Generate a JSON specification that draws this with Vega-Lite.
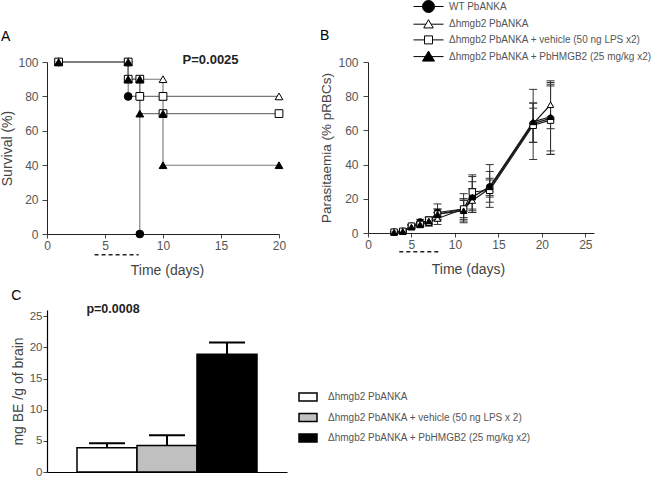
{
  "$schema": "https://vega.github.io/schema/vega-lite/v6.json",
  "padding": {"left": 0, "top": 1, "right": 0, "bottom": 0},
  "background": "white",
  "config": {
    "font": "Liberation Sans",
    "view": {"stroke": null},
    "axis": {"grid": false, "labelColor": "#555", "titleColor": "#444", "titleFontWeight": "normal", "domainColor": "#222", "tickColor": "#444", "labelFont": "Liberation Sans", "titleFont": "Liberation Sans"},
    "title": {"font": "Liberation Sans", "fontWeight": "normal", "fontSize": 14, "color": "#000", "anchor": "start", "frame": "bounds"}
  },
  "datasets": {
    "survival": [
      {"series": "WT PbANKA", "day": 1, "survival": 100, "ord": 0},
      {"series": "WT PbANKA", "day": 7, "survival": 100, "ord": 1},
      {"series": "WT PbANKA", "day": 7, "survival": 80, "ord": 2},
      {"series": "WT PbANKA", "day": 8, "survival": 80, "ord": 3},
      {"series": "WT PbANKA", "day": 8, "survival": 0, "ord": 4},
      {"series": "Δhmgb2 PbANKA", "day": 1, "survival": 100, "ord": 0},
      {"series": "Δhmgb2 PbANKA", "day": 7, "survival": 100, "ord": 1},
      {"series": "Δhmgb2 PbANKA", "day": 7, "survival": 90, "ord": 2},
      {"series": "Δhmgb2 PbANKA", "day": 10, "survival": 90, "ord": 3},
      {"series": "Δhmgb2 PbANKA", "day": 10, "survival": 80, "ord": 4},
      {"series": "Δhmgb2 PbANKA", "day": 20, "survival": 80, "ord": 5},
      {"series": "Δhmgb2 PbANKA + vehicle (50 ng LPS x2)", "day": 1, "survival": 100, "ord": 0},
      {"series": "Δhmgb2 PbANKA + vehicle (50 ng LPS x2)", "day": 7, "survival": 100, "ord": 1},
      {"series": "Δhmgb2 PbANKA + vehicle (50 ng LPS x2)", "day": 7, "survival": 90, "ord": 2},
      {"series": "Δhmgb2 PbANKA + vehicle (50 ng LPS x2)", "day": 8, "survival": 90, "ord": 3},
      {"series": "Δhmgb2 PbANKA + vehicle (50 ng LPS x2)", "day": 8, "survival": 80, "ord": 4},
      {"series": "Δhmgb2 PbANKA + vehicle (50 ng LPS x2)", "day": 10, "survival": 80, "ord": 5},
      {"series": "Δhmgb2 PbANKA + vehicle (50 ng LPS x2)", "day": 10, "survival": 70, "ord": 6},
      {"series": "Δhmgb2 PbANKA + vehicle (50 ng LPS x2)", "day": 20, "survival": 70, "ord": 7},
      {"series": "Δhmgb2 PbANKA + PbHMGB2 (25 mg/kg x2)", "day": 1, "survival": 100, "ord": 0},
      {"series": "Δhmgb2 PbANKA + PbHMGB2 (25 mg/kg x2)", "day": 7, "survival": 100, "ord": 1},
      {"series": "Δhmgb2 PbANKA + PbHMGB2 (25 mg/kg x2)", "day": 7, "survival": 90, "ord": 2},
      {"series": "Δhmgb2 PbANKA + PbHMGB2 (25 mg/kg x2)", "day": 8, "survival": 90, "ord": 3},
      {"series": "Δhmgb2 PbANKA + PbHMGB2 (25 mg/kg x2)", "day": 8, "survival": 70, "ord": 4},
      {"series": "Δhmgb2 PbANKA + PbHMGB2 (25 mg/kg x2)", "day": 10, "survival": 70, "ord": 5},
      {"series": "Δhmgb2 PbANKA + PbHMGB2 (25 mg/kg x2)", "day": 10, "survival": 40, "ord": 6},
      {"series": "Δhmgb2 PbANKA + PbHMGB2 (25 mg/kg x2)", "day": 20, "survival": 40, "ord": 7}
    ],
    "parasitaemia": [
      {"series": "WT PbANKA", "day": 3, "mean": 0.5, "lo": 0.2, "hi": 0.8},
      {"series": "WT PbANKA", "day": 4, "mean": 1, "lo": 0.5, "hi": 1.5},
      {"series": "WT PbANKA", "day": 5, "mean": 4, "lo": 3, "hi": 5},
      {"series": "WT PbANKA", "day": 6, "mean": 6.5, "lo": 5, "hi": 8},
      {"series": "WT PbANKA", "day": 7, "mean": 7, "lo": 5, "hi": 9},
      {"series": "WT PbANKA", "day": 8, "mean": 12, "lo": 7, "hi": 17},
      {"series": "WT PbANKA", "day": 11, "mean": 14, "lo": 6, "hi": 20},
      {"series": "WT PbANKA", "day": 12, "mean": 21, "lo": 13, "hi": 34},
      {"series": "WT PbANKA", "day": 14, "mean": 27, "lo": 15, "hi": 40},
      {"series": "WT PbANKA", "day": 19, "mean": 64, "lo": 43, "hi": 84},
      {"series": "WT PbANKA", "day": 21, "mean": 67, "lo": 46, "hi": 88},
      {"series": "Δhmgb2 PbANKA", "day": 3, "mean": 0.5, "lo": 0.2, "hi": 0.8},
      {"series": "Δhmgb2 PbANKA", "day": 4, "mean": 1, "lo": 0.5, "hi": 1.5},
      {"series": "Δhmgb2 PbANKA", "day": 5, "mean": 3.5, "lo": 2.5, "hi": 4.5},
      {"series": "Δhmgb2 PbANKA", "day": 6, "mean": 5, "lo": 4, "hi": 6},
      {"series": "Δhmgb2 PbANKA", "day": 7, "mean": 6, "lo": 4, "hi": 8},
      {"series": "Δhmgb2 PbANKA", "day": 8, "mean": 8.5, "lo": 5, "hi": 12},
      {"series": "Δhmgb2 PbANKA", "day": 11, "mean": 14, "lo": 8, "hi": 20},
      {"series": "Δhmgb2 PbANKA", "day": 12, "mean": 19, "lo": 12, "hi": 26},
      {"series": "Δhmgb2 PbANKA", "day": 14, "mean": 26, "lo": 21, "hi": 31},
      {"series": "Δhmgb2 PbANKA", "day": 19, "mean": 64, "lo": 53, "hi": 76},
      {"series": "Δhmgb2 PbANKA", "day": 21, "mean": 75, "lo": 61, "hi": 89},
      {"series": "Δhmgb2 PbANKA + vehicle (50 ng LPS x2)", "day": 3, "mean": 0.5, "lo": 0.2, "hi": 0.8},
      {"series": "Δhmgb2 PbANKA + vehicle (50 ng LPS x2)", "day": 4, "mean": 1, "lo": 0.5, "hi": 1.5},
      {"series": "Δhmgb2 PbANKA + vehicle (50 ng LPS x2)", "day": 5, "mean": 4, "lo": 3, "hi": 5},
      {"series": "Δhmgb2 PbANKA + vehicle (50 ng LPS x2)", "day": 6, "mean": 5, "lo": 4, "hi": 6.5},
      {"series": "Δhmgb2 PbANKA + vehicle (50 ng LPS x2)", "day": 7, "mean": 7.5, "lo": 5.5, "hi": 9.5},
      {"series": "Δhmgb2 PbANKA + vehicle (50 ng LPS x2)", "day": 8, "mean": 11, "lo": 8, "hi": 14},
      {"series": "Δhmgb2 PbANKA + vehicle (50 ng LPS x2)", "day": 11, "mean": 14, "lo": 9, "hi": 19},
      {"series": "Δhmgb2 PbANKA + vehicle (50 ng LPS x2)", "day": 12, "mean": 24, "lo": 14, "hi": 33},
      {"series": "Δhmgb2 PbANKA + vehicle (50 ng LPS x2)", "day": 14, "mean": 25, "lo": 18, "hi": 32},
      {"series": "Δhmgb2 PbANKA + vehicle (50 ng LPS x2)", "day": 19, "mean": 63, "lo": 53, "hi": 73},
      {"series": "Δhmgb2 PbANKA + vehicle (50 ng LPS x2)", "day": 21, "mean": 66, "lo": 46, "hi": 86},
      {"series": "Δhmgb2 PbANKA + PbHMGB2 (25 mg/kg x2)", "day": 3, "mean": 0.5, "lo": 0.2, "hi": 0.8},
      {"series": "Δhmgb2 PbANKA + PbHMGB2 (25 mg/kg x2)", "day": 4, "mean": 1, "lo": 0.5, "hi": 1.5},
      {"series": "Δhmgb2 PbANKA + PbHMGB2 (25 mg/kg x2)", "day": 5, "mean": 3.5, "lo": 2.5, "hi": 4.5},
      {"series": "Δhmgb2 PbANKA + PbHMGB2 (25 mg/kg x2)", "day": 6, "mean": 5, "lo": 4, "hi": 6},
      {"series": "Δhmgb2 PbANKA + PbHMGB2 (25 mg/kg x2)", "day": 7, "mean": 7, "lo": 5, "hi": 9},
      {"series": "Δhmgb2 PbANKA + PbHMGB2 (25 mg/kg x2)", "day": 8, "mean": 11, "lo": 8, "hi": 14},
      {"series": "Δhmgb2 PbANKA + PbHMGB2 (25 mg/kg x2)", "day": 11, "mean": 13, "lo": 7, "hi": 23},
      {"series": "Δhmgb2 PbANKA + PbHMGB2 (25 mg/kg x2)", "day": 12, "mean": 21, "lo": 12, "hi": 30},
      {"series": "Δhmgb2 PbANKA + PbHMGB2 (25 mg/kg x2)", "day": 14, "mean": 27, "lo": 22, "hi": 36},
      {"series": "Δhmgb2 PbANKA + PbHMGB2 (25 mg/kg x2)", "day": 19, "mean": 65, "lo": 53, "hi": 76},
      {"series": "Δhmgb2 PbANKA + PbHMGB2 (25 mg/kg x2)", "day": 21, "mean": 68, "lo": 48, "hi": 87}
    ],
    "brain": [
      {"group": "Δhmgb2 PbANKA", "value": 3.9, "upper": 4.6},
      {"group": "Δhmgb2 PbANKA + vehicle (50 ng LPS x 2)", "value": 4.25, "upper": 5.9},
      {"group": "Δhmgb2 PbANKA + PbHMGB2 (25 mg/kg x2)", "value": 18.9, "upper": 20.8}
    ]
  },
  "resolve": {"scale": {"fill": "independent", "shape": "independent", "stroke": "independent"}, "legend": {"fill": "independent", "shape": "independent", "stroke": "independent"}},
  "spacing": 11,
  "vconcat": [
    {
      "spacing": 33,
      "resolve": {"scale": {"fill": "independent", "shape": "independent", "stroke": "independent"}, "legend": {"fill": "independent", "shape": "independent", "stroke": "independent"}},
      "hconcat": [
        {
          "width": 232,
          "height": 172,
          "title": {"text": "A", "offset": 10},
          "data": {"name": "survival"},
          "layer": [
            {
              "mark": {"type": "line", "color": "#777", "strokeWidth": 1.1},
              "encoding": {
                "x": {"field": "day", "type": "quantitative", "scale": {"domain": [0, 20]},
                  "axis": {"values": [0, 5, 10, 15, 20], "tickCount": 20, "title": "Time (days)", "titleX": 120, "titleFontSize": 14, "labelFontSize": 12, "tickSize": 4, "labelPadding": 2, "titlePadding": 12, "labelFlush": false}},
                "y": {"field": "survival", "type": "quantitative", "scale": {"domain": [0, 100]},
                  "axis": {"values": [0, 20, 40, 60, 80, 100], "tickCount": 20, "title": "Survival (%)", "titleFontSize": 14, "labelFontSize": 12, "tickSize": 5, "labelPadding": 4, "titlePadding": 3}},
                "detail": {"field": "series"},
                "order": {"field": "ord"}
              }
            },
            {
              "mark": {"type": "point", "filled": true, "stroke": "#000", "strokeWidth": 1, "size": 60, "opacity": 1},
              "encoding": {
                "x": {"field": "day", "type": "quantitative"},
                "y": {"field": "survival", "type": "quantitative"},
                "shape": {"field": "series", "type": "nominal", "legend": null,
                  "scale": {"domain": ["WT PbANKA", "Δhmgb2 PbANKA", "Δhmgb2 PbANKA + vehicle (50 ng LPS x2)", "Δhmgb2 PbANKA + PbHMGB2 (25 mg/kg x2)"], "range": ["circle", "triangle-up", "square", "triangle-up"]}},
                "fill": {"field": "series", "type": "nominal", "legend": null,
                  "scale": {"domain": ["WT PbANKA", "Δhmgb2 PbANKA", "Δhmgb2 PbANKA + vehicle (50 ng LPS x2)", "Δhmgb2 PbANKA + PbHMGB2 (25 mg/kg x2)"], "range": ["#000", "#fff", "#fff", "#000"]}}
              }
            },
            {
              "data": {"values": [{"start": 4.1, "end": 7.9}]},
              "mark": {"type": "rule", "strokeDash": [4, 3], "color": "#222", "strokeWidth": 1.5},
              "encoding": {
                "x": {"field": "start", "type": "quantitative"},
                "x2": {"field": "end"},
                "y": {"datum": -12}
              }
            },
            {
              "data": {"values": [{"label": "P=0.0025"}]},
              "mark": {"type": "text", "fontWeight": "bold", "fontSize": 13, "color": "#222", "align": "center", "baseline": "middle"},
              "encoding": {
                "x": {"datum": 14.1},
                "y": {"datum": 101},
                "text": {"field": "label"}
              }
            }
          ]
        },
        {
          "width": 226,
          "height": 171,
          "title": {"text": "B", "offset": -42},
          "data": {"name": "parasitaemia"},
          "resolve": {"scale": {"fill": "independent", "shape": "independent", "stroke": "independent"}, "legend": {"fill": "independent", "shape": "independent", "stroke": "independent"}},
          "layer": [
            {
              "mark": {"type": "line", "color": "#1a1a1a", "strokeWidth": 1.2},
              "encoding": {
                "x": {"field": "day", "type": "quantitative", "scale": {"domain": [0, 25]},
                  "axis": {"values": [0, 5, 10, 15, 20, 25], "tickCount": 20, "title": "Time (days)", "titleX": 100, "titleFontSize": 14, "labelFontSize": 12, "tickSize": 4, "labelPadding": 2, "titlePadding": 12, "labelFlush": false}},
                "y": {"field": "mean", "type": "quantitative", "scale": {"domain": [0, 100]},
                  "axis": {"values": [0, 20, 40, 60, 80, 100], "tickCount": 20, "title": "Parasitaemia (% pRBCs)", "titleFontSize": 13.5, "labelFontSize": 12, "tickSize": 5, "labelPadding": 5, "titlePadding": 4}},
                "detail": {"field": "series"}
              }
            },
            {
              "mark": {"type": "rule", "color": "#333", "strokeWidth": 1},
              "encoding": {
                "x": {"field": "day", "type": "quantitative"},
                "y": {"field": "lo", "type": "quantitative"},
                "y2": {"field": "hi"}
              }
            },
            {
              "mark": {"type": "tick", "orient": "horizontal", "size": 8, "thickness": 1, "color": "#333", "opacity": 1},
              "encoding": {
                "x": {"field": "day", "type": "quantitative"},
                "y": {"field": "lo", "type": "quantitative"}
              }
            },
            {
              "mark": {"type": "tick", "orient": "horizontal", "size": 8, "thickness": 1, "color": "#333", "opacity": 1},
              "encoding": {
                "x": {"field": "day", "type": "quantitative"},
                "y": {"field": "hi", "type": "quantitative"}
              }
            },
            {
              "mark": {"type": "point", "filled": true, "stroke": "#000", "strokeWidth": 1, "size": 42, "opacity": 1},
              "encoding": {
                "x": {"field": "day", "type": "quantitative"},
                "y": {"field": "mean", "type": "quantitative"},
                "shape": {"field": "series", "type": "nominal", "legend": null,
                  "scale": {"domain": ["WT PbANKA", "Δhmgb2 PbANKA", "Δhmgb2 PbANKA + vehicle (50 ng LPS x2)", "Δhmgb2 PbANKA + PbHMGB2 (25 mg/kg x2)"], "range": ["circle", "triangle-up", "square", "triangle-up"]}},
                "fill": {"field": "series", "type": "nominal", "legend": null,
                  "scale": {"domain": ["WT PbANKA", "Δhmgb2 PbANKA", "Δhmgb2 PbANKA + vehicle (50 ng LPS x2)", "Δhmgb2 PbANKA + PbHMGB2 (25 mg/kg x2)"], "range": ["#000", "#fff", "#fff", "#000"]}}
              }
            },
            {
              "transform": [{"filter": "false"}],
              "mark": {"type": "point", "filled": true, "strokeWidth": 1, "size": 100, "opacity": 1},
              "encoding": {
                "x": {"field": "day", "type": "quantitative"},
                "y": {"field": "mean", "type": "quantitative"},
                "shape": {"field": "series", "type": "nominal",
                  "scale": {"domain": ["WT PbANKA", "Δhmgb2 PbANKA", "Δhmgb2 PbANKA + vehicle (50 ng LPS x2)", "Δhmgb2 PbANKA + PbHMGB2 (25 mg/kg x2)"], "range": ["M-3,0H-1.2M1.2,0H3M-1.2,0A1.2,1.2 0 1,0 1.2,0A1.2,1.2 0 1,0 -1.2,0Z", "M-3,0H-0.52M0.52,0H3M0,-0.9L0.95,0.75L-0.95,0.75Z", "M-3,0H-0.8M0.8,0H3M-0.8,-0.8H0.8V0.8H-0.8Z", "M-3,0H-0.6M0.6,0H3M0,-1.1L1.2,0.9L-1.2,0.9Z"]},
                  "legend": {"title": null, "orient": "none", "legendX": 55, "legendY": -61, "padding": 0, "symbolSize": 100, "symbolStrokeWidth": 1, "labelFontSize": 10, "labelColor": "#555", "labelOffset": 15, "rowPadding": 2.7, "labelLimit": 400}},
                "fill": {"field": "series", "type": "nominal",
                  "scale": {"domain": ["WT PbANKA", "Δhmgb2 PbANKA", "Δhmgb2 PbANKA + vehicle (50 ng LPS x2)", "Δhmgb2 PbANKA + PbHMGB2 (25 mg/kg x2)"], "range": ["#000", "#fff", "#fff", "#000"]},
                  "legend": {"title": null, "orient": "none", "legendX": 55, "legendY": -61, "padding": 0, "symbolSize": 100, "symbolStrokeWidth": 1, "labelFontSize": 10, "labelColor": "#555", "labelOffset": 15, "rowPadding": 2.7, "labelLimit": 400}},
                "stroke": {"field": "series", "type": "nominal",
                  "scale": {"domain": ["WT PbANKA", "Δhmgb2 PbANKA", "Δhmgb2 PbANKA + vehicle (50 ng LPS x2)", "Δhmgb2 PbANKA + PbHMGB2 (25 mg/kg x2)"], "range": ["#000", "#000", "#000", "#000"]},
                  "legend": {"title": null, "orient": "none", "legendX": 55, "legendY": -61, "padding": 0, "symbolSize": 100, "symbolStrokeWidth": 1, "labelFontSize": 10, "labelColor": "#555", "labelOffset": 15, "rowPadding": 2.7, "labelLimit": 400}}
              }
            },
            {
              "data": {"values": [{"start": 3.6, "end": 8.2}]},
              "mark": {"type": "rule", "strokeDash": [4, 3], "color": "#222", "strokeWidth": 1.5},
              "encoding": {
                "x": {"field": "start", "type": "quantitative"},
                "x2": {"field": "end"},
                "y": {"datum": -11}
              }
            }
          ]
        }
      ]
    },
    {
      "width": 240,
      "height": 162,
      "title": {"text": "C", "offset": 0},
      "data": {"name": "brain"},
      "layer": [
        {
          "mark": {"type": "bar", "stroke": "#000", "strokeWidth": 1.5, "opacity": 1},
          "encoding": {
            "x": {"field": "group", "type": "nominal", "sort": null,
              "scale": {"paddingInner": 0, "paddingOuter": 0.5},
              "axis": {"title": null, "labels": false, "ticks": false, "domainColor": "#000", "domainWidth": 1.2}},
            "y": {"field": "value", "type": "quantitative", "scale": {"domain": [0, 25]},
              "axis": {"values": [0, 5, 10, 15, 20, 25], "tickCount": 20, "title": "mg BE /g of brain", "titleFontSize": 14, "labelFontSize": 11.5, "tickSize": 4, "labelPadding": 1, "titlePadding": 4, "domainColor": "#000", "domainWidth": 1.2}},
            "fill": {"field": "group", "type": "nominal", "sort": null,
              "scale": {"range": ["#fff", "#c0c0c0", "#000"]},
              "legend": {"title": null, "orient": "none", "legendX": 255, "legendY": 81, "padding": 0, "symbolType": "M-1.8,-0.8H1.8V0.8H-1.8Z", "symbolSize": 100, "symbolStrokeColor": "#000", "symbolStrokeWidth": 1.5, "symbolOpacity": 1, "labelFontSize": 10, "labelColor": "#555", "labelOffset": 14, "rowPadding": 6.5, "labelLimit": 400}}
          }
        },
        {
          "mark": {"type": "rule", "color": "#000", "strokeWidth": 2},
          "encoding": {
            "x": {"field": "group", "type": "nominal", "sort": null},
            "y": {"field": "value", "type": "quantitative"},
            "y2": {"field": "upper"}
          }
        },
        {
          "mark": {"type": "tick", "orient": "horizontal", "size": 36, "thickness": 2, "color": "#000", "opacity": 1},
          "encoding": {
            "x": {"field": "group", "type": "nominal", "sort": null},
            "y": {"field": "upper", "type": "quantitative"}
          }
        },
        {
          "data": {"values": [{"label": "p=0.0008"}]},
          "mark": {"type": "text", "fontWeight": "bold", "fontSize": 12.5, "color": "#222", "align": "center", "baseline": "middle", "dx": 6},
          "encoding": {
            "x": {"datum": "Δhmgb2 PbANKA"},
            "y": {"datum": 26.2},
            "text": {"field": "label"}
          }
        }
      ]
    }
  ]
}
